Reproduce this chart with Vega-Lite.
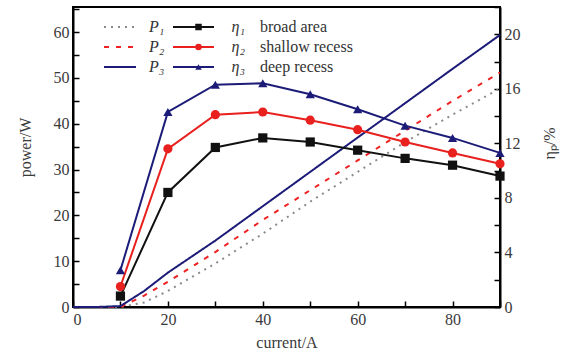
{
  "$schema": "https://vega.github.io/schema/vega-lite/v6.json",
  "width": 427,
  "height": 300,
  "autosize": "none",
  "padding": {"left": 73, "top": 7, "right": 69, "bottom": 46},
  "background": "white",
  "config": {
    "view": {"stroke": "black", "strokeWidth": 2},
    "axis": {
      "grid": false,
      "domainColor": "black",
      "domainWidth": 2,
      "tickColor": "black",
      "tickWidth": 1.5,
      "tickSize": -6,
      "labelPadding": 10,
      "labelFont": "Liberation Serif",
      "labelFontSize": 16,
      "labelColor": "#3a3a3a",
      "titleFont": "Liberation Serif",
      "titleFontSize": 16,
      "titleFontWeight": "normal",
      "titleColor": "#3a3a3a"
    },
    "legend": {
      "labelFont": "Liberation Serif",
      "labelFontSize": 16,
      "labelColor": "#333333",
      "padding": 0,
      "rowPadding": 4,
      "clipHeight": 16
    }
  },
  "datasets": {
    "power": [
      {"current": 0, "series": "P1", "power": 0},
      {"current": 5, "series": "P1", "power": 0},
      {"current": 10, "series": "P1", "power": 0},
      {"current": 15, "series": "P1", "power": 1},
      {"current": 20, "series": "P1", "power": 3.5},
      {"current": 30, "series": "P1", "power": 9.5},
      {"current": 40, "series": "P1", "power": 16},
      {"current": 50, "series": "P1", "power": 23},
      {"current": 60, "series": "P1", "power": 29.5},
      {"current": 70, "series": "P1", "power": 36},
      {"current": 80, "series": "P1", "power": 42},
      {"current": 90, "series": "P1", "power": 47.7},
      {"current": 0, "series": "P2", "power": 0},
      {"current": 5, "series": "P2", "power": 0},
      {"current": 10, "series": "P2", "power": 0},
      {"current": 15, "series": "P2", "power": 2.5},
      {"current": 20, "series": "P2", "power": 5.5},
      {"current": 30, "series": "P2", "power": 12},
      {"current": 40, "series": "P2", "power": 19},
      {"current": 50, "series": "P2", "power": 25.5},
      {"current": 60, "series": "P2", "power": 32},
      {"current": 70, "series": "P2", "power": 38.5},
      {"current": 80, "series": "P2", "power": 45},
      {"current": 90, "series": "P2", "power": 51.2},
      {"current": 0, "series": "P3", "power": 0},
      {"current": 5, "series": "P3", "power": 0},
      {"current": 10, "series": "P3", "power": 0.2},
      {"current": 15, "series": "P3", "power": 3.5},
      {"current": 20, "series": "P3", "power": 7.5},
      {"current": 30, "series": "P3", "power": 14.5},
      {"current": 40, "series": "P3", "power": 22},
      {"current": 50, "series": "P3", "power": 29.5},
      {"current": 60, "series": "P3", "power": 37},
      {"current": 70, "series": "P3", "power": 44.5},
      {"current": 80, "series": "P3", "power": 52},
      {"current": 90, "series": "P3", "power": 59.4}
    ],
    "eff": [
      {"current": 10, "series": "eta1", "device": "broad area", "eta": 0.8},
      {"current": 20, "series": "eta1", "device": "broad area", "eta": 8.4},
      {"current": 30, "series": "eta1", "device": "broad area", "eta": 11.7},
      {"current": 40, "series": "eta1", "device": "broad area", "eta": 12.4},
      {"current": 50, "series": "eta1", "device": "broad area", "eta": 12.1},
      {"current": 60, "series": "eta1", "device": "broad area", "eta": 11.5},
      {"current": 70, "series": "eta1", "device": "broad area", "eta": 10.9},
      {"current": 80, "series": "eta1", "device": "broad area", "eta": 10.4},
      {"current": 90, "series": "eta1", "device": "broad area", "eta": 9.6},
      {"current": 10, "series": "eta2", "device": "shallow recess", "eta": 1.5},
      {"current": 20, "series": "eta2", "device": "shallow recess", "eta": 11.6},
      {"current": 30, "series": "eta2", "device": "shallow recess", "eta": 14.1},
      {"current": 40, "series": "eta2", "device": "shallow recess", "eta": 14.3},
      {"current": 50, "series": "eta2", "device": "shallow recess", "eta": 13.7},
      {"current": 60, "series": "eta2", "device": "shallow recess", "eta": 13.0},
      {"current": 70, "series": "eta2", "device": "shallow recess", "eta": 12.1},
      {"current": 80, "series": "eta2", "device": "shallow recess", "eta": 11.3},
      {"current": 90, "series": "eta2", "device": "shallow recess", "eta": 10.5},
      {"current": 10, "series": "eta3", "device": "deep recess", "eta": 2.7},
      {"current": 20, "series": "eta3", "device": "deep recess", "eta": 14.3},
      {"current": 30, "series": "eta3", "device": "deep recess", "eta": 16.3},
      {"current": 40, "series": "eta3", "device": "deep recess", "eta": 16.4},
      {"current": 50, "series": "eta3", "device": "deep recess", "eta": 15.6},
      {"current": 60, "series": "eta3", "device": "deep recess", "eta": 14.5},
      {"current": 70, "series": "eta3", "device": "deep recess", "eta": 13.3},
      {"current": 80, "series": "eta3", "device": "deep recess", "eta": 12.4},
      {"current": 90, "series": "eta3", "device": "deep recess", "eta": 11.3}
    ]
  },
  "encoding": {
    "x": {
      "field": "current",
      "type": "quantitative",
      "scale": {"domain": [0, 90], "nice": false},
      "axis": {
        "title": "current/A",
        "values": [0, 10, 20, 30, 40, 50, 60, 70, 80, 90],
        "labelExpr": "datum.value % 20 === 0 ? datum.label : ''",
        "titleY": 35,
        "titleBaseline": "middle"
      }
    }
  },
  "layer": [
    {
      "data": {"name": "power"},
      "mark": {"type": "line", "strokeWidth": 2},
      "encoding": {
        "y": {
          "field": "power",
          "type": "quantitative",
          "scale": {"domain": [0, 65.5], "nice": false},
          "axis": {
            "title": "power/W",
            "orient": "left",
            "values": [0, 5, 10, 15, 20, 25, 30, 35, 40, 45, 50, 55, 60, 65],
            "labelExpr": "datum.value % 10 === 0 ? datum.label : ''",
            "titleX": -48,
            "titleY": 140,
            "titleAlign": "center",
            "titleBaseline": "middle",
            "titleAngle": -90
          }
        },
        "color": {
          "field": "series",
          "type": "nominal",
          "scale": {"domain": ["P1", "P2", "P3"], "range": ["#8a8a8a", "#ee2222", "#1c1c78"]},
          "legend": {
            "title": null,
            "orient": "none",
            "legendX": 30,
            "legendY": 12,
            "symbolType": "stroke",
            "symbolSize": 1024,
            "symbolStrokeWidth": 2,
            "labelFontStyle": "italic",
            "labelOffset": 12,
            "labelExpr": "datum.value === 'P1' ? 'P₁' : datum.value === 'P2' ? 'P₂' : 'P₃'"
          }
        },
        "strokeDash": {
          "field": "series",
          "type": "nominal",
          "scale": {"domain": ["P1", "P2", "P3"], "range": [[2, 5], [5, 7], [1, 0]]},
          "legend": {
            "title": null,
            "orient": "none",
            "legendX": 30,
            "legendY": 12,
            "symbolType": "stroke",
            "symbolSize": 1024,
            "symbolStrokeWidth": 2,
            "labelFontStyle": "italic",
            "labelOffset": 12,
            "labelExpr": "datum.value === 'P1' ? 'P₁' : datum.value === 'P2' ? 'P₂' : 'P₃'"
          }
        }
      }
    },
    {
      "data": {"name": "eff"},
      "encoding": {
        "y": {
          "field": "eta",
          "type": "quantitative",
          "scale": {"domain": [0, 22], "nice": false},
          "axis": {
            "title": "ηₚ/%",
            "orient": "right",
            "values": [0, 2, 4, 6, 8, 10, 12, 14, 16, 18, 20, 22],
            "labelExpr": "datum.value % 4 === 0 ? datum.label : ''",
            "titleX": 49,
            "titleY": 136,
            "titleAlign": "center",
            "titleBaseline": "middle",
            "titleAngle": 270
          }
        }
      },
      "layer": [
        {
          "mark": {"type": "line", "strokeWidth": 2},
          "encoding": {
            "stroke": {
              "field": "device",
              "type": "nominal",
              "scale": {"domain": ["broad area", "shallow recess", "deep recess"], "range": ["#111111", "#e8201e", "#1c1c78"]},
              "legend": {
                "title": null,
                "orient": "none",
                "legendX": 99,
                "legendY": 12,
                "symbolType": "stroke",
                "symbolSize": 1681,
                "symbolStrokeWidth": 2,
                "labelOffset": 45
              }
            }
          }
        },
        {
          "mark": {"type": "point", "filled": true, "size": 85, "opacity": 1},
          "encoding": {
            "fill": {
              "field": "series",
              "type": "nominal",
              "scale": {"domain": ["eta1", "eta2", "eta3"], "range": ["#111111", "#e8201e", "#1c1c78"]},
              "legend": {
                "title": null,
                "orient": "none",
                "legendX": 117.5,
                "legendY": 12,
                "symbolSize": 42,
                "symbolStrokeWidth": 0,
                "labelFontStyle": "italic",
                "labelOffset": 25,
                "labelExpr": "datum.value === 'eta1' ? 'η₁' : datum.value === 'eta2' ? 'η₂' : 'η₃'"
              }
            },
            "shape": {
              "field": "series",
              "type": "nominal",
              "scale": {"domain": ["eta1", "eta2", "eta3"], "range": ["square", "circle", "triangle-up"]},
              "legend": {
                "title": null,
                "orient": "none",
                "legendX": 117.5,
                "legendY": 12,
                "symbolSize": 42,
                "symbolStrokeWidth": 0,
                "labelFontStyle": "italic",
                "labelOffset": 25,
                "labelExpr": "datum.value === 'eta1' ? 'η₁' : datum.value === 'eta2' ? 'η₂' : 'η₃'"
              }
            }
          }
        }
      ]
    }
  ],
  "resolve": {"scale": {"y": "independent"}, "axis": {"y": "independent"}}
}
